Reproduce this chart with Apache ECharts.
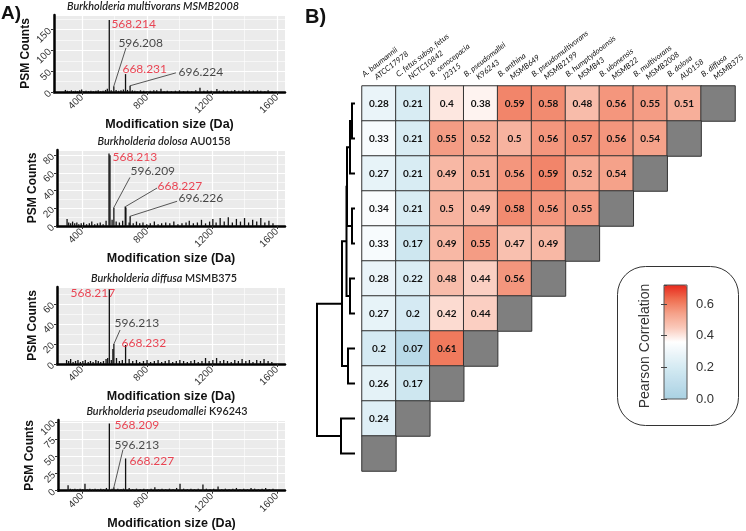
<!DOCTYPE html>
<html><head><meta charset="utf-8">
<script src="https://cdn.jsdelivr.net/npm/echarts@6/dist/echarts.min.js"></script>
<style>html,body{margin:0;padding:0;background:#fff}#c{width:746px;height:531px}</style>
</head><body><div id="c"></div>
<script>
// ---------------- Panel A data ----------------
const massTicks = [400, 800, 1200, 1600];
const massMinorTicks = [600, 1000, 1400];
const spectraTitles = [
  ['Burkholderia multivorans MSMB2008', ''],
  ['Burkholderia dolosa', ' AU0158'],
  ['Burkholderia diffusa', ' MSMB375'],
  ['Burkholderia pseudomallei', ' K96243']
];
const yMaxes = [185, 86, 77, 103];
const yIntervals = [50, 20, 20, 25];
const xMins = [228, 246, 246, 252];
const xMax = 1649;

// [mass, PSM count]
const multPeaks = [[568, 173], [596, 14], [668, 43], [696, 15]];
const multNoise = [[298,5],[310,3],[322,2],[335,4],[348,2],[360,3],[372,2],[386,4],[398,6],[412,2],[425,3],[440,2],[455,3],[470,2],[486,3],[500,4],[515,2],[530,3],[545,5],[556,8],[580,4],[610,5],[625,3],[640,4],[655,6],[680,5],[710,4],[725,3],[740,2],[760,4],[780,3],[800,2],[820,3],[842,4],[860,4],[886,8],[905,2],[925,3],[950,2],[975,3],[1000,4],[1025,2],[1050,3],[1075,2],[1100,4],[1126,10],[1150,3],[1172,4],[1195,3],[1230,7],[1245,3],[1270,4],[1295,3],[1320,3],[1340,5],[1365,3],[1390,4],[1410,3],[1430,4],[1455,3],[1480,4],[1500,3],[1525,2],[1545,4],[1570,2]];
const multLabels = [[578,163,'568.214',1],[621,118,'596.208',0],[646,55,'668.231',1],[991,48,'696.224',0]];
const multLeaders = [[[596,14],[671,106]],[[696,15],[978,46]]];

const dolPeaks = [[566, 82], [572, 80], [596, 21], [666, 22], [670, 21], [696, 11]];
const dolNoise = [[308,8],[318,4],[330,3],[342,5],[355,3],[368,4],[380,2],[395,3],[410,4],[428,2],[445,3],[460,5],[478,2],[495,3],[512,4],[530,2],[548,6],[585,7],[610,5],[630,4],[650,6],[690,4],[715,3],[735,5],[755,3],[775,4],[798,2],[820,3],[845,5],[868,2],[890,3],[915,4],[940,3],[965,5],[990,2],[1015,3],[1040,4],[1060,6],[1085,3],[1110,4],[1135,7],[1160,3],[1185,5],[1205,8],[1225,4],[1250,9],[1275,5],[1300,10],[1325,4],[1350,8],[1375,5],[1400,9],[1425,4],[1450,7],[1475,5],[1500,9],[1525,4],[1550,6],[1575,3]];
const dolLabels = [[585,78,'568.213',1],[695,62,'596.209',0],[862,45,'668.227',1],[991,31.5,'696.226',0]];
const dolLeaders = [[[596,21],[695,55]],[[668,22],[862,43]],[[696,11],[985,28]]];

const difPeaks = [[568, 75], [590, 15], [596, 20], [668, 19]];
const difNoise = [[305,4],[318,3],[330,5],[345,2],[360,3],[375,4],[390,2],[405,3],[420,4],[438,2],[452,3],[468,2],[485,4],[500,3],[515,2],[532,3],[548,5],[558,6],[580,4],[612,6],[630,3],[648,4],[690,5],[712,3],[735,4],[755,2],[778,3],[800,4],[822,2],[845,3],[868,4],[890,2],[912,3],[935,4],[958,2],[980,3],[1002,4],[1025,3],[1048,2],[1070,3],[1092,4],[1115,2],[1138,3],[1160,6],[1182,3],[1205,4],[1228,6],[1250,3],[1272,4],[1295,3],[1318,2],[1340,4],[1362,3],[1385,5],[1408,3],[1430,4],[1452,2],[1475,4],[1498,3],[1520,5],[1545,3],[1568,2]];
const difLabels = [[326,71,'568.217',1],[597,41,'596.213',0],[640,21,'668.232',1]];
const difLeaders = [[[596,20],[634,34]]];

const psePeaks = [[568, 98], [596, 5], [668, 47]];
const pseNoise = [[314,8],[328,3],[342,2],[356,3],[372,2],[388,3],[404,2],[418,10],[432,2],[448,3],[465,2],[480,3],[498,2],[515,3],[532,2],[550,4],[585,3],[620,3],[640,2],[655,3],[690,4],[712,2],[735,3],[758,2],[780,3],[802,2],[825,3],[848,5],[870,2],[892,3],[915,2],[938,3],[960,2],[982,4],[1003,10],[1025,3],[1048,2],[1070,3],[1092,2],[1115,3],[1144,9],[1165,3],[1188,2],[1210,3],[1237,6],[1260,2],[1282,3],[1305,2],[1328,3],[1350,4],[1372,2],[1395,3],[1418,2],[1440,4],[1462,3],[1485,2],[1508,3],[1530,4],[1552,2],[1575,3]];
const pseLabels = [[597,95,'568.209',1],[597,66,'596.213',0],[689,43,'668.227',1]];
const pseLeaders = [[[596,5],[652,60]]];

const spectraPeaks = [multPeaks, dolPeaks, difPeaks, psePeaks];
const spectraNoise = [multNoise, dolNoise, difNoise, pseNoise];
const spectraLabels = [multLabels, dolLabels, difLabels, pseLabels];
const spectraLeaders = [multLeaders, dolLeaders, difLeaders, pseLeaders];

// ---------------- Panel B data ----------------
const colLine1 = ['A. baumannii','C. fetus subsp. fetus','B. cenocepacia','B. pseudomallei','B. anthina','B. pseudomultivorans','B. humptydooensis','B. ubonensis','B. multivorans','B. dolosa','B. diffusa'];
const colLine2 = ['ATCC17978','NCTC10842','J2315','K96243','MSMB649','MSMB2199','MSMB43','MSMB22','MSMB2008','AU0158','MSMB375'];
const corrRows = [
  [0.28,0.21,0.4,0.38,0.59,0.58,0.48,0.56,0.55,0.51],
  [0.33,0.21,0.55,0.52,0.5,0.56,0.57,0.56,0.54],
  [0.27,0.21,0.49,0.51,0.56,0.59,0.52,0.54],
  [0.34,0.21,0.5,0.49,0.58,0.56,0.55],
  [0.33,0.17,0.49,0.55,0.47,0.49],
  [0.28,0.22,0.48,0.44,0.56],
  [0.27,0.2,0.42,0.44],
  [0.2,0.07,0.61],
  [0.26,0.17],
  [0.24],
  []
];
const rowNames = ['r1','r2','r3','r4','r5','r6','r7','r8','r9','r10','r11'];
// dendrogram merges: [childA, childB, height]; leaves 0..10, clusters 11..
const dendroMerges = [
  [0, 1, 0.06],
  [11, 2, 0.10],
  [3, 4, 0.06],
  [12, 13, 0.16],
  [5, 6, 0.10],
  [14, 15, 0.17],
  [7, 8, 0.14],
  [16, 17, 0.26],
  [9, 10, 0.28],
  [18, 19, 0.76]
];
const corrColors = ['#a9d1e2','#bddcea','#d0e8f1','#e7f3f8','#ffffff','#fac9ba','#f5a28a','#ef6e50','#e8281c'];

// ---------------- layout ----------------
const panelGrids = [
  {left:54, top:15, width:231, height:77},
  {left:57, top:150, width:228, height:76},
  {left:57, top:287, width:228, height:77},
  {left:58, top:420, width:227, height:78}
];
const titleCenters = [153, 164, 164, 167];
const heatGrid = {left:362, top:86, width:373, height:385};
const cbarGrid = {left:664, top:285, width:23, height:114};
const dendroGrid = {left:305, top:86, width:50, height:385};

const RED = '#e8192c';
const boldFont = 'Liberation Sans';

const grids = [];
const xAxes = [];
const yAxes = [];
const series = [];
const graphics = [];

panelGrids.forEach((g) => {
  grids.push(Object.assign({show:true, backgroundColor:'#ebebeb', borderWidth:0, containLabel:false}, g));
});
panelGrids.forEach((g, i) => {
  xAxes.push({
    type:'value', gridIndex:i, min:xMins[i], max:xMax,
    axisLine:{show:true, onZero:false, lineStyle:{color:'#000', width:2.5}},
    axisTick:{show:true, length:3, customValues:massTicks, lineStyle:{color:'#333'}},
    axisLabel:{customValues:massTicks, rotate:45, fontSize:10, color:'#333', margin:4, fontFamily:boldFont, formatter:v => String(v)},
    splitLine:{show:true, lineStyle:{color:'#fff', width:1.2}},
    name:'Modification size (Da)', nameLocation:'middle', nameGap:20,
    nameTextStyle:{fontSize:12.5, fontWeight:'bold', color:'#111', fontFamily:boldFont}
  });
});
panelGrids.forEach((g, i) => {
  xAxes.push({
    type:'value', gridIndex:i, min:xMins[i], max:xMax, position:'bottom',
    axisLine:{show:false}, axisTick:{show:false, customValues:massMinorTicks},
    axisLabel:{show:false, customValues:massMinorTicks},
    splitLine:{show:true, lineStyle:{color:'#fff', width:0.6}}
  });
});
panelGrids.forEach((g, i) => {
  yAxes.push({
    type:'value', gridIndex:i, min:0, max:yMaxes[i], interval:yIntervals[i],
    axisLine:{show:true, lineStyle:{color:'#000', width:2.5}},
    axisTick:{show:true, length:3, lineStyle:{color:'#333'}},
    axisLabel:{rotate:45, fontSize:10, color:'#333', margin:4, showMaxLabel:false, fontFamily:boldFont},
    splitLine:{show:true, lineStyle:{color:'#fff', width:1.2}},
    minorTick:{show:false, splitNumber:2},
    minorSplitLine:{show:true, lineStyle:{color:'#fff', width:0.6}},
    name:'PSM Counts', nameLocation:'middle', nameGap:15, nameRotate:90,
    nameTextStyle:{fontSize:12, fontWeight:'bold', color:'#111', fontFamily:boldFont}
  });
});

// heatmap grid (grid 4)
grids.push(Object.assign({show:false}, heatGrid));
const HX = xAxes.length;
xAxes.push({type:'category', gridIndex:4, data:colLine1, position:'top', show:false});
const HY = yAxes.length;
yAxes.push({type:'category', gridIndex:4, data:rowNames, inverse:true, show:false});

// colorbar grid (grid 5)
grids.push(Object.assign({show:true, backgroundColor:'transparent', borderColor:'#555', borderWidth:1, z:10}, cbarGrid));
xAxes.push({type:'value', gridIndex:5, show:false, min:0, max:1});
yAxes.push({
  type:'value', gridIndex:5, min:0, max:0.72, interval:0.2, position:'right', z:10,
  axisLine:{show:false},
  axisTick:{show:true, inside:true, length:3, lineStyle:{color:'#444'}},
  axisLabel:{formatter:v => v.toFixed(1), fontSize:13, color:'#333', margin:9, fontFamily:boldFont, showMaxLabel:false},
  splitLine:{show:false}
});
yAxes.push({
  type:'value', gridIndex:5, min:0, max:0.72, interval:0.2, position:'left', z:10,
  axisLine:{show:false},
  axisTick:{show:true, inside:true, length:3, lineStyle:{color:'#444'}},
  axisLabel:{show:false}, splitLine:{show:false}
});

// dendrogram grid (grid 6)
grids.push(Object.assign({show:false}, dendroGrid));
const DX = xAxes.length;
xAxes.push({type:'value', gridIndex:6, min:0, max:1, inverse:true, show:false});
const DY = yAxes.length;
yAxes.push({type:'value', gridIndex:6, min:0, max:11, inverse:true, show:false});

// ---------------- series: panel A ----------------
panelGrids.forEach((g, i) => {
  series.push({
    type:'bar', xAxisIndex:i, yAxisIndex:i, barWidth:1.3, barGap:'0%',
    itemStyle:{color:'#111'}, silent:true,
    data: spectraNoise[i].concat(spectraPeaks[i])
  });
  series.push({
    type:'lines', coordinateSystem:'cartesian2d', xAxisIndex:i, yAxisIndex:i, polyline:false,
    lineStyle:{color:'#444', width:0.9, opacity:1}, silent:true,
    data: spectraLeaders[i].map(c => ({coords:c}))
  });
  series.push({
    type:'scatter', xAxisIndex:i, yAxisIndex:i, symbolSize:1, itemStyle:{color:'transparent'}, silent:true,
    label:{show:true, position:'right', distance:0, formatter:p => p.name, fontSize:12, fontFamily:'Lato', align:'left', verticalAlign:'middle'},
    data: spectraLabels[i].map(l => ({value:[l[0], l[1]], name:l[2], label:{color: l[3] ? RED : '#1a1a1a'}}))
  });
  const t = spectraTitles[i];
  graphics.push({
    type:'text', x: titleCenters[i], y: g.top - 8,
    style:{text:'{i|' + t[0] + '}' + (t[1] ? '{n|' + t[1] + '}' : ''), align:'center', verticalAlign:'middle',
      rich:{i:{fontStyle:'italic', fontSize:10.8, fontFamily:'Lato', fill:'#222', fontWeight:'600'},
            n:{fontSize:10.8, fontFamily:'Lato', fill:'#222', fontWeight:'600'}}}
  });
});

// ---------------- series: heatmap ----------------
const heatData = [];
const grayData = [];
corrRows.forEach((row, r) => {
  row.forEach((v, c) => heatData.push([c, r, v]));
  grayData.push([row.length, r, 1]);
});
const heatIndex = series.length;
series.push({
  type:'heatmap', xAxisIndex:HX, yAxisIndex:HY, data:heatData,
  itemStyle:{borderColor:'#333', borderWidth:1},
  label:{show:true, formatter:p => String(p.value[2]), fontSize:10, fontWeight:'bold', fontFamily:'Lato', color:'#111'}
});
series.push({
  type:'heatmap', xAxisIndex:HX, yAxisIndex:HY, data:grayData,
  itemStyle:{color:'#7f7f7f', borderColor:'#333', borderWidth:1}, label:{show:false}
});

// dendrogram
const nodeY = [];
const nodeH = [];
for (let k = 0; k < rowNames.length; k++) { nodeY.push(k + 0.5); nodeH.push(0); }
const dendroSegs = [];
dendroMerges.forEach(m => {
  const [a, b, h] = m;
  dendroSegs.push({coords:[[nodeH[a], nodeY[a]], [h, nodeY[a]], [h, nodeY[b]], [nodeH[b], nodeY[b]]]});
  nodeY.push((nodeY[a] + nodeY[b]) / 2);
  nodeH.push(h);
});
series.push({
  type:'lines', coordinateSystem:'cartesian2d', xAxisIndex:DX, yAxisIndex:DY, polyline:true,
  lineStyle:{color:'#000', width:2, opacity:1}, silent:true, data:dendroSegs
});

// ---------------- graphics ----------------
graphics.push({type:'text', x:1, y:14, style:{text:'A)', fontSize:19, fontWeight:'bold', fontFamily:boldFont, fill:'#111', verticalAlign:'middle'}});
graphics.push({type:'text', x:305, y:17, style:{text:'B)', fontSize:20, fontWeight:'bold', fontFamily:boldFont, fill:'#111', verticalAlign:'middle'}});
graphics.push({type:'rect', shape:{x:617.5, y:266.5, width:121, height:159, r:28}, style:{fill:'none', stroke:'#333', lineWidth:1}, z:-1});
graphics.push({type:'text', x:645, y:346, rotation:Math.PI/2, style:{text:'Pearson Correlation', fontSize:14, fontFamily:boldFont, fill:'#333', align:'center', verticalAlign:'middle'}});

const option = {
  animation:false,
  backgroundColor:'#ffffff',
  grid:grids, xAxis:xAxes, yAxis:yAxes,
  visualMap:{
    type:'continuous', seriesIndex:heatIndex, min:0, max:0.72, calculable:false,
    left:cbarGrid.left, top:cbarGrid.top, itemWidth:cbarGrid.width, itemHeight:cbarGrid.height,
    padding:0, text:null, inRange:{color:corrColors}, hoverLink:false
  },
  series:series,
  graphic:graphics
};
const chart = echarts.init(document.getElementById('c'));
chart.setOption(option);

// column labels positioned from the heatmap's own category scale
const colRot = 38 * Math.PI / 180;
const labelGraphics = colLine1.map((name, i) => {
  const p = chart.convertToPixel({xAxisIndex:HX, yAxisIndex:HY}, [i, 0]);
  const p1 = chart.convertToPixel({xAxisIndex:HX, yAxisIndex:HY}, [i, 1]);
  const cellH = p1[1] - p[1];
  const cellW = 373 / colLine1.length;
  return {
    type:'text', x: p[0] - cellW * 0.2, y: p[1] - cellH / 2 + 1, rotation: colRot,
    style:{text:'{a|' + name + '}\n{b|' + colLine2[i] + '}', align:'left', verticalAlign:'bottom',
      rich:{a:{fontSize:7.8, fontStyle:'italic', fontFamily:'Lato', fill:'#111', lineHeight:10},
            b:{fontSize:7.8, fontStyle:'italic', fontFamily:'Lato', fill:'#111', lineHeight:10, padding:[0,0,0,8]}}}
  };
});
chart.setOption({graphic: graphics.concat(labelGraphics)});
</script></body></html>
